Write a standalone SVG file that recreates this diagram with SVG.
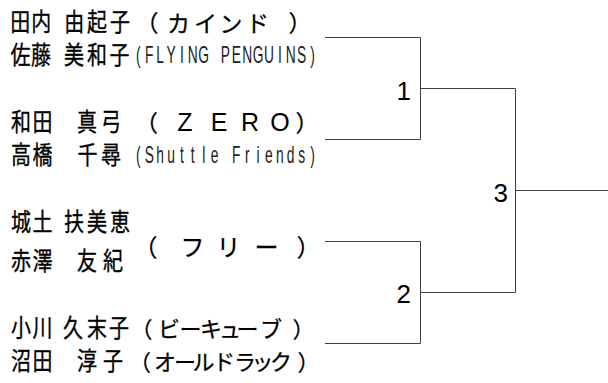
<svg xmlns="http://www.w3.org/2000/svg" width="608" height="383" viewBox="0 0 608 383">
<style>
.nm{font-family:"Noto Sans CJK JP","Noto Sans",sans-serif;font-size:25px;fill:#000;stroke:#000;stroke-width:0.35;text-anchor:middle}
.jp{font-family:"Noto Sans CJK JP","Noto Sans",sans-serif;font-size:22px;fill:#000;stroke:#000;stroke-width:0.25;text-anchor:middle}
.lat{font-family:"Liberation Sans",Arial,sans-serif;font-size:25px;stroke:none}
.cond{font-family:"Liberation Sans",Arial,sans-serif;font-size:23px;fill:#222;text-anchor:middle}
.num{font-family:"Liberation Sans",Arial,sans-serif;font-size:26px;fill:#000;text-anchor:end}
.ln{fill:none;stroke:#404040;stroke-width:1}
</style>
<rect width="608" height="383" fill="#fff"/>
<g id="entry-1">
<g transform="scale(0.8,1)">
<text class="nm"><tspan x="25.4 51.5 70 92.75 121.25 150" y="31">田内 由起子</tspan><tspan x="25.6 51.25 70 92.5 121.25 149.4" y="64">佐藤 美和子</tspan></text>
</g>
<text class="jp" style="font-size:23px" x="147 178.5 205.5 231 257.5 300" y="31.5">（カイン&#x30C9;）</text>
<g transform="scale(0.6,1)">
<text class="cond" x="230.67 248.8 266.93 285.07 303.2 321.33 339.47 357.6 375.73 393.87 412 430.13 448.27 466.4 484.53 502.67 520.8" y="63.5">(FLYING PENGUINS)</text>
</g>
</g>
<g id="entry-2">
<g transform="scale(0.8,1)">
<text class="nm"><tspan x="26.25 53.1 80 108.75 138.75" y="131">和田 真弓</tspan><tspan x="26.25 53.1 80 109.4 138.75" y="164">高橋 千尋</tspan></text>
</g>
<text class="jp" style="font-size:23px"><tspan x="146.5" y="131.5">（</tspan><tspan class="lat" x="185 219 250 280" y="130.5">ZERO</tspan><tspan x="307" y="131.5">）</tspan></text>
<g transform="scale(0.6,1)">
<text class="cond" x="230.67 248.8 266.93 285.07 303.2 321.33 339.47 357.6 375.73 393.87 412 430.13 448.27 466.4 484.53 502.67 520.8" y="163.5">(Shuttle Friends)</text>
</g>
</g>
<g id="entry-3">
<g transform="scale(0.8,1)">
<text class="nm"><tspan x="26.25 53.1 70 92.5 121.25 150" y="231.5">城土 扶美恵</tspan><tspan x="26.25 53.1 80 108.75 141.25" y="270">赤澤 友紀</tspan></text>
</g>
<text class="jp" style="font-size:24px" x="145.5 192.5 228.5 266.5 308.5" y="256">（フリー）</text>
</g>
<g id="entry-4">
<g transform="scale(0.8,1)">
<text class="nm"><tspan x="26.25 53.1 70 91.25 121.25 148.75" y="337.5">小川 久末子</tspan><tspan x="26.25 53.1 80 108.75 141.25" y="370.5">沼田 淳子</tspan></text>
</g>
<text class="jp"><tspan x="141.5 169 190.5 211 230 247.5 271 303.5" y="336.5">（&#x30D3;ーキュー&#x30D6;）</tspan><tspan x="140 165 185 203.5 224 245 262.5 281 308.5" y="369.5">（オール&#x30C9;ラック）</tspan></text>
</g>
<g id="match-1"><text class="num" x="411" y="100">1</text></g>
<g id="match-2"><text class="num" x="411" y="303">2</text></g>
<g id="match-3"><text class="num" x="508" y="202">3</text></g>
<g id="connectors">
<path class="ln" d="M325 37.5H420.5V139.5H325"/>
<path class="ln" d="M325 241.5H420.5V343.5H325"/>
<path class="ln" d="M420.5 88.5H515.5V292.5H420.5"/>
<path class="ln" d="M515.5 190.5H608"/>
</g>
</svg>
